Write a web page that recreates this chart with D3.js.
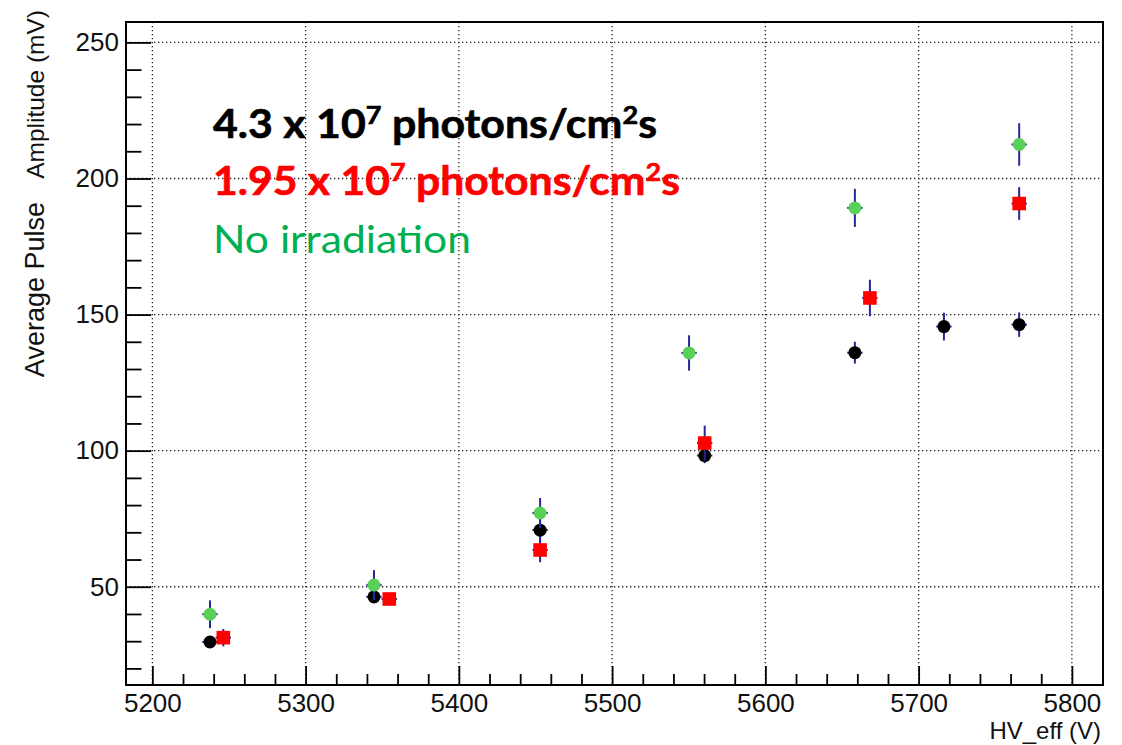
<!DOCTYPE html>
<html>
<head>
<meta charset="utf-8">
<script src="https://cdn.jsdelivr.net/npm/d3@7"></script>
<style>
  html, body { margin: 0; padding: 0; background: #fff; }
  svg { display: block; }
  .tick text { font-family: "Liberation Sans", Arial, sans-serif; font-size: 26px; fill: #111; }
</style>
</head>
<body>
<svg id="chart" width="1122" height="745"></svg>
<script>
// ---------------- data ----------------
const xTicks = [5200, 5300, 5400, 5500, 5600, 5700, 5800];
const yTicks = [50, 100, 150, 200, 250];

// 4.3 x 10^7 photons/cm^2 s  (black circles)
const blackX  = [5237.6, 5344.6, 5453.0, 5560.4, 5658.4, 5716.5, 5765.6];
const blackY  = [29.7, 46.3, 70.8, 98.2, 136.0, 145.6, 146.3];
const blackEY = [2.0, 2.4, 4.5, 2.8, 4.0, 5.1, 4.5];

// 1.95 x 10^7 photons/cm^2 s  (red squares)
const redX  = [5246.3, 5354.6, 5453.0, 5560.4, 5668.2, 5765.6];
const redY  = [31.3, 45.5, 63.5, 102.8, 156.1, 190.8];
const redEY = [3.2, 2.0, 4.5, 6.4, 6.7, 6.0];

// No irradiation  (green circles)
const greenX  = [5237.6, 5344.6, 5453.0, 5550.2, 5658.4, 5765.6];
const greenY  = [39.9, 50.6, 77.1, 135.9, 189.2, 212.5];
const greenEY = [5.1, 5.5, 5.5, 6.5, 7.0, 7.8];

const xErr = 5;

const legendLines = ["4.3 x 10|7| photons/cm|2|s", "1.95 x 10|7| photons/cm|2|s", "No irradiation"];
const xTitle = "HV_eff (V)";
const yTitleA = "Average Pulse";
const yTitleB = "Amplitude (mV)";

// ---------------- layout ----------------
const svg = d3.select("#chart");
const L = 126, R = 1103, T = 22, B = 685;

const x = d3.scaleLinear().domain([5182.8, 5820.3]).range([L, R]);
const y = d3.scaleLinear().domain([13.9, 257.5]).range([B, T]);

const xMinor = d3.range(5180, 5821, 20).filter(v => v >= x.domain()[0] && v <= x.domain()[1] && v % 100 !== 0);
const yMinor = d3.range(10, 260, 10).filter(v => v >= y.domain()[0] && v <= y.domain()[1] && v % 50 !== 0);

// grid (dotted)
const grid = svg.append("g");
grid.selectAll("line.gx").data(xTicks).join("line")
  .attr("x1", d => x(d)).attr("x2", d => x(d))
  .attr("y1", T).attr("y2", B)
  .attr("stroke", "#222").attr("stroke-width", 1.3).attr("stroke-dasharray", "1.3,2.7");
grid.selectAll("line.gy").data(yTicks).join("line")
  .attr("y1", d => y(d)).attr("y2", d => y(d))
  .attr("x1", L).attr("x2", R)
  .attr("stroke", "#222").attr("stroke-width", 1.3).attr("stroke-dasharray", "1.3,2.7");

// axes
const xAxis = svg.append("g").attr("transform", `translate(0,${B})`)
  .call(d3.axisBottom(x).tickValues(xTicks).tickFormat(d3.format("d")).tickSize(-19).tickPadding(8.5).tickSizeOuter(0));
const xAxisMinor = svg.append("g").attr("transform", `translate(0,${B})`)
  .call(d3.axisBottom(x).tickValues(xMinor).tickFormat("").tickSize(-11).tickSizeOuter(0));
const yAxis = svg.append("g").attr("transform", `translate(${L},0)`)
  .call(d3.axisLeft(y).tickValues(yTicks).tickFormat(d3.format("d")).tickSize(-25).tickPadding(7).tickSizeOuter(0));
const yAxisMinor = svg.append("g").attr("transform", `translate(${L},0)`)
  .call(d3.axisLeft(y).tickValues(yMinor).tickFormat("").tickSize(-15.5).tickSizeOuter(0));
[xAxis, xAxisMinor, yAxis, yAxisMinor].forEach(g => {
  g.select(".domain").remove();
  g.selectAll(".tick line").attr("stroke", "#000").attr("stroke-width", 1.8);
});
xAxis.selectAll(".tick text").attr("dy", "0.71em");

// frame
svg.append("rect").attr("x", L).attr("y", T).attr("width", R - L).attr("height", B - T)
  .attr("fill", "none").attr("stroke", "#000").attr("stroke-width", 2);

// ---------------- series ----------------
const errColor = "#2626a0";
function drawSeries(xs, ys, eys, color, shape) {
  const data = xs.map((v, i) => ({ x: v, y: ys[i], e: eys[i] }));
  const g = svg.append("g");
  g.selectAll("line.ev").data(data).join("line")
    .attr("x1", d => x(d.x)).attr("x2", d => x(d.x))
    .attr("y1", d => y(d.y - d.e)).attr("y2", d => y(d.y + d.e))
    .attr("stroke", errColor).attr("stroke-width", 2);
  g.selectAll("line.eh").data(data).join("line")
    .attr("x1", d => x(d.x - xErr)).attr("x2", d => x(d.x + xErr))
    .attr("y1", d => y(d.y)).attr("y2", d => y(d.y))
    .attr("stroke", errColor).attr("stroke-width", 2);
  if (shape === "circle") {
    g.selectAll("circle").data(data).join("circle")
      .attr("cx", d => x(d.x)).attr("cy", d => y(d.y)).attr("r", 6.5)
      .attr("fill", color);
  } else {
    g.selectAll("rect").data(data).join("rect")
      .attr("x", d => x(d.x) - 6.8).attr("y", d => y(d.y) - 6.8)
      .attr("width", 13.6).attr("height", 13.6)
      .attr("fill", color);
  }
}
drawSeries(blackX, blackY, blackEY, "#000000", "circle");
drawSeries(redX, redY, redEY, "#ff0000", "square");
drawSeries(greenX, greenY, greenEY, "#57d257", "circle");

// ---------------- legend text ----------------
const legendStyle = [
  { color: "#000000", weight: "bold", baseline: 137.5, width: 444 },
  { color: "#ff0000", weight: "bold", baseline: 195, width: 467 },
  { color: "#00b050", weight: "normal", baseline: 253, width: 258 }
];
legendLines.forEach((line, i) => {
  const st = legendStyle[i];
  const t = svg.append("text")
    .attr("x", 213).attr("y", st.baseline)
    .attr("font-family", "Lato, 'Open Sans', sans-serif")
    .attr("font-size", 39.5).attr("font-weight", st.weight)
    .attr("fill", st.color);
  if (st.weight === "bold") t.attr("stroke", st.color).attr("stroke-width", 0.6);
  const parts = line.split("|");
  parts.forEach((p, j) => {
    if (p === "") return;
    const sup = j % 2 === 1;
    t.append("tspan")
      .attr("font-size", sup ? 25 : 39.5)
      .attr("dy", sup ? -14 : (j > 0 ? 14 : 0))
      .text(p);
  });
  t.attr("textLength", st.width).attr("lengthAdjust", "spacingAndGlyphs");
});

// ---------------- axis titles ----------------
svg.append("text")
  .attr("x", 1101).attr("y", 739)
  .attr("text-anchor", "end")
  .attr("font-family", "'Liberation Sans', Arial, sans-serif")
  .attr("font-size", 24).attr("fill", "#111")
  .text(xTitle);

svg.append("text")
  .attr("transform", "translate(44,10) rotate(-90)")
  .attr("text-anchor", "end")
  .attr("font-family", "'Liberation Sans', Arial, sans-serif")
  .attr("font-size", 24.5).attr("fill", "#111")
  .text(yTitleB);
svg.append("text")
  .attr("transform", "translate(44,202) rotate(-90)")
  .attr("text-anchor", "end")
  .attr("font-family", "'Liberation Sans', Arial, sans-serif")
  .attr("font-size", 27).attr("fill", "#111")
  .text(yTitleA);
</script>
</body>
</html>
